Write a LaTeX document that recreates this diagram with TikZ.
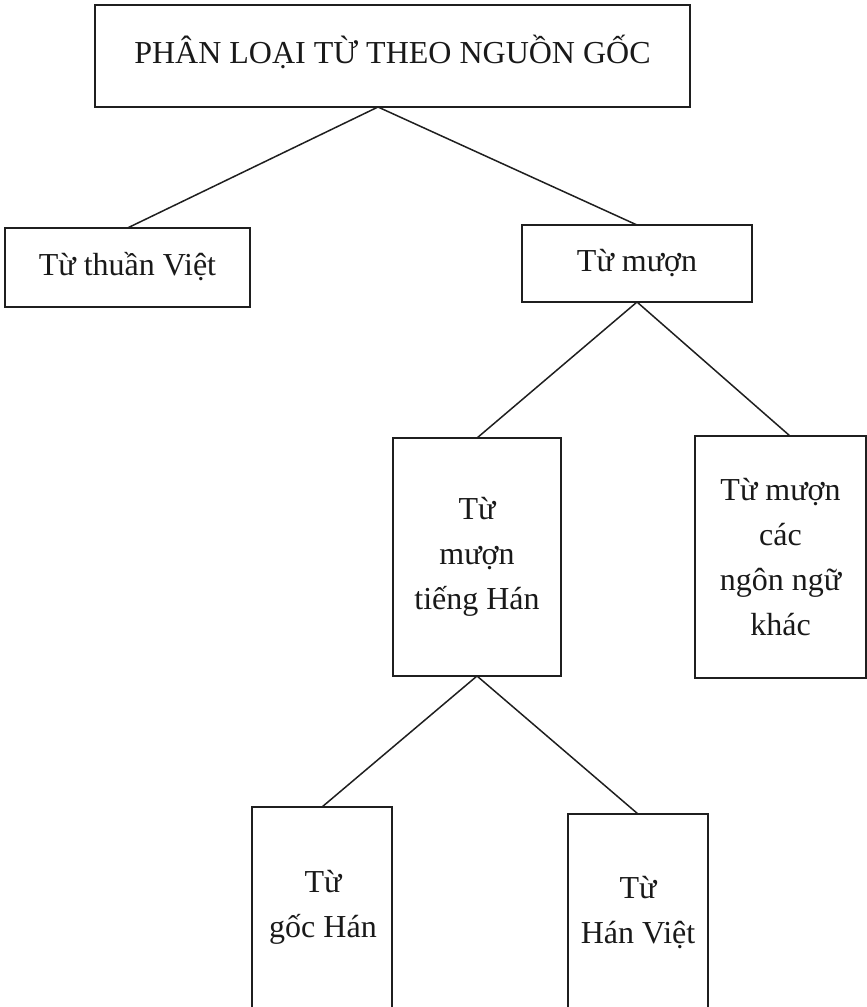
\documentclass[tikz,border=0pt]{standalone}
\usepackage{fontspec}
\setmainfont{Liberation Serif}
\begin{document}
\begin{tikzpicture}[x=1pt,y=-1pt,
  box/.style={draw=black!88, line width=1.6pt, rectangle, inner sep=0pt, outer sep=0pt,
    align=center, text=black!90, font=\fontsize{32}{45}\selectfont},
  lbl/.style={align=center, inner sep=0pt, text=black!90, font=\fontsize{32}{45}\selectfont},
  one/.style={text height=22pt, text depth=7pt},
  link/.style={draw=black!88, line width=1.5pt}]
\clip (0,0) rectangle (867,1007);
% boxes
\node[box,one,minimum width=595pt,minimum height=102pt] (root) at (392.5,56) {PHÂN LOẠI TỪ THEO NGUỒN GỐC};
\node[box,one,minimum width=245pt,minimum height=79pt] (tv) at (127.5,267.5) {Từ thuần Việt};
\node[box,one,minimum width=230pt,minimum height=77pt] (tm) at (637,263.5) {Từ mượn};
\node[box,minimum width=168pt,minimum height=238pt] (th) at (477,557) {Từ\\mượn\\tiếng Hán};
\node[box,minimum width=171pt,minimum height=242pt] (tk) at (780.5,557) {Từ mượn\\các\\ngôn ngữ\\khác};
\node[box,minimum width=140pt,minimum height=293pt] (gh) at (322,953.5) {};
\node[box,minimum width=140pt,minimum height=286pt] (hv) at (638,957) {};
\node[lbl] (ghT) at (323,907.5) {Từ\\gốc Hán};
\node[lbl] (hvT) at (638,912.5) {Từ\\Hán Việt};
% connectors
\coordinate (rootJ) at (378,107);
\coordinate (tkJ) at (790,436);
\draw[link] (rootJ) -- (tv.north);
\draw[link] (rootJ) -- (tm.north);
\draw[link] (tm.south) -- (th.north);
\draw[link] (tm.south) -- (tkJ);
\draw[link] (th.south) -- (gh.north);
\draw[link] (th.south) -- (hv.north);
\end{tikzpicture}
\end{document}
